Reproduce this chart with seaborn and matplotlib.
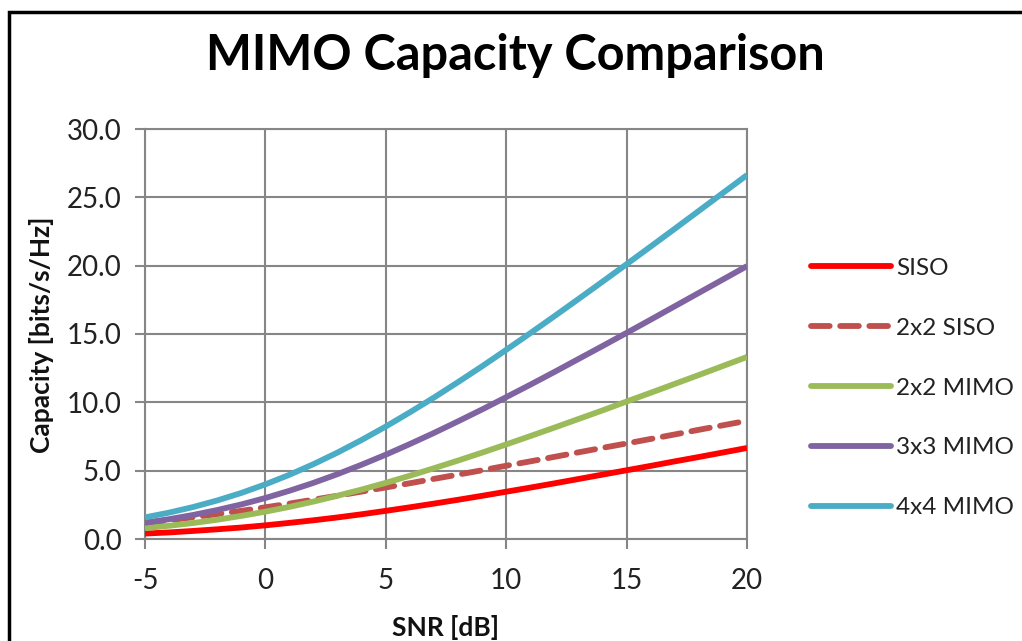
import numpy as np
import pandas as pd
import seaborn as sns
import matplotlib.pyplot as plt
from matplotlib.lines import Line2D
from matplotlib.patches import Rectangle

# SNR axis (dB) and capacities
snr = [-5, -4, -3, -2, -1, 0, 1, 2, 3, 4, 5, 6, 7, 8, 9, 10,
       11, 12, 13, 14, 15, 16, 17, 18, 19, 20]
siso = [0.40, 0.48, 0.59, 0.71, 0.84, 1.00, 1.18, 1.37, 1.58, 1.81, 2.06, 2.32, 2.59,
        2.87, 3.16, 3.46, 3.76, 4.07, 4.39, 4.71, 5.03, 5.35, 5.68, 6.00, 6.33, 6.66]
siso_2x2 = [1.18, 1.37, 1.59, 1.82, 2.06, 2.32, 2.59, 2.88, 3.17, 3.47, 3.77, 4.08, 4.40,
            4.71, 5.03, 5.36, 5.68, 6.01, 6.34, 6.67, 6.99, 7.32, 7.65, 7.99, 8.32, 8.65]
mimo_2x2 = [0.79, 0.97, 1.17, 1.41, 1.69, 2.00, 2.35, 2.74, 3.17, 3.62, 4.11, 4.63, 5.18,
            5.74, 6.32, 6.92, 7.53, 8.15, 8.78, 9.41, 10.06, 10.70, 11.35, 12.00, 12.66, 13.32]
mimo_3x3 = [1.19, 1.45, 1.76, 2.12, 2.53, 3.00, 3.53, 4.11, 4.75, 5.44, 6.17, 6.95, 7.76,
            8.61, 9.48, 10.38, 11.29, 12.22, 13.17, 14.12, 15.08, 16.05, 17.03, 18.01, 18.99, 19.97]
mimo_4x4 = [1.58, 1.93, 2.34, 2.82, 3.37, 4.00, 4.70, 5.48, 6.33, 7.25, 8.23, 9.27, 10.35,
            11.48, 12.64, 13.84, 15.06, 16.30, 17.56, 18.83, 20.11, 21.40, 22.70, 24.01, 25.32, 26.63]

names = ['SISO', '2x2 SISO', '2x2 MIMO', '3x3 MIMO', '4x4 MIMO']
colors = ['#FF0000', '#C0504D', '#9BBB59', '#8064A2', '#4BACC6']
series = [siso, siso_2x2, mimo_2x2, mimo_3x3, mimo_4x4]

df = pd.concat([pd.DataFrame({'snr': snr, 'cap': s, 'name': n}) for n, s in zip(names, series)])

sns.set_style('white')
plt.rcParams['font.family'] = ['Lato', 'DejaVu Sans']
plt.rcParams['axes.unicode_minus'] = False

fig = plt.figure(figsize=(10.22, 6.41), dpi=100)
ax = fig.add_axes([145 / 1022, 1 - 539 / 641, (747 - 145) / 1022, (539 - 129) / 641])

dashes = {n: '' for n in names}
dashes['2x2 SISO'] = (3.2, 1.8)
sns.lineplot(data=df, x='snr', y='cap', hue='name', style='name', palette=dict(zip(names, colors)),
             dashes=dashes, linewidth=4.2, legend=False, ax=ax, zorder=3)
for line in ax.get_lines():
    line.set_solid_capstyle('butt')
    line.set_dash_capstyle('round')

grid_c = '#868686'
ax.set_xlim(-5, 20)
ax.set_ylim(0, 30)
ax.set_xticks([-5, 0, 5, 10, 15, 20])
ax.set_yticks(np.arange(0, 31, 5))
ax.set_yticklabels([f'{v:.1f}' for v in np.arange(0, 31, 5)])
ax.grid(True, color=grid_c, linewidth=1.5)
for sp in ax.spines.values():
    sp.set_color(grid_c)
    sp.set_linewidth(1.5)
ax.tick_params(axis='both', direction='out', length=7, width=1.5, color=grid_c,
               labelsize=20, labelcolor='#222222', left=True, bottom=True)
ax.tick_params(axis='x', pad=14)
ax.tick_params(axis='y', pad=10)
ax.set_xlabel('')
ax.set_ylabel('')

fig.text(42 / 1022, 1 - 335 / 641, 'Capacity [bits/s/Hz]', rotation=90, ha='center', va='center',
         fontsize=19, fontweight='bold', color='#111111')
fig.text(445 / 1022, 1 - 627 / 641, 'SNR [dB]', ha='center', va='center',
         fontsize=19, fontweight='bold', color='#111111')
fig.text(515 / 1022, 1 - 55 / 641, 'MIMO Capacity Comparison', ha='center', va='center',
         fontsize=35, fontweight='bold', color='#000000')

handles = [Line2D([], [], color=c, linewidth=4.2, solid_capstyle='round', dash_capstyle='round',
                  linestyle=(0, (3.2, 1.8)) if n == '2x2 SISO' else '-')
           for n, c in zip(names, colors)]
leg = fig.legend(handles, names, loc='center left', bbox_to_anchor=(789 / 1022, 1 - 388 / 641),
                 frameon=False, fontsize=17.5, handlelength=3.3, handletextpad=0.2,
                 labelspacing=1.6)
for t in leg.get_texts():
    t.set_color('#222222')

fig.patches.append(Rectangle((9 / 1022, -0.05), 1.1, 1 - 12 / 641 + 0.05, transform=fig.transFigure,
                             fill=False, edgecolor='black', linewidth=2.5))

fig.savefig('out.png', dpi=100)
plt.close()
